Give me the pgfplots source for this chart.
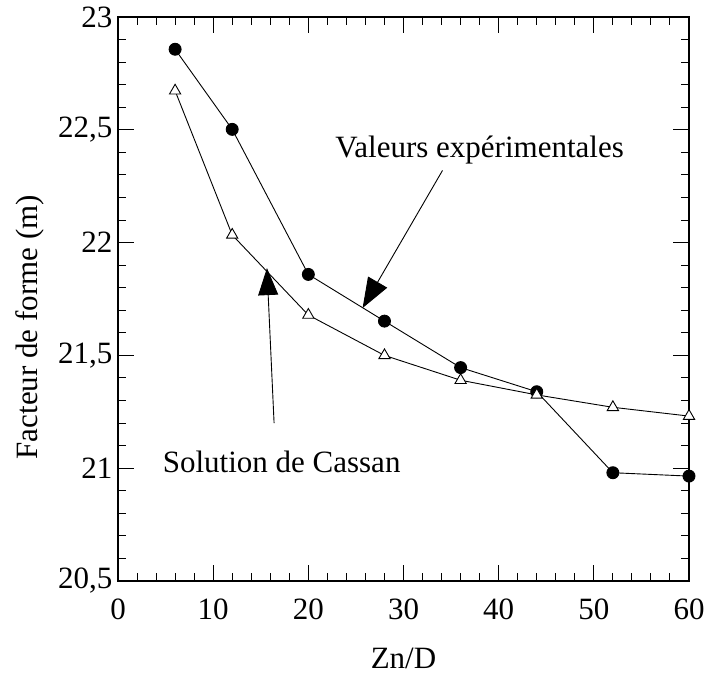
\documentclass[border=0pt]{standalone}
\usepackage{fontspec}
\setmainfont{Liberation Serif}
\usepackage{pgfplots}
\pgfplotsset{compat=1.18}
\usetikzlibrary{arrows.meta}
\begin{document}
\begin{tikzpicture}
\begin{axis}[
  width=571pt, height=564pt, scale only axis,
  xmin=0, xmax=60, ymin=20.5, ymax=23,
  xtick={0,10,...,60}, minor x tick num=4,
  ytick={20.5,21,21.5,22,22.5,23}, minor y tick num=4,
  tick align=inside,
  major tick length=16pt, minor tick length=8pt,
  every tick/.style={black, line width=1pt},
  axis line style={line width=1.3pt},
  /pgf/number format/assume math mode=true,
  /pgf/number format/use comma,
  /pgf/number format/1000 sep={},
  ticklabel style={font=\fontsize{31}{34}\selectfont},
  xticklabel style={yshift=-14pt},
  yticklabel style={xshift=-2pt},
  label style={font=\fontsize{31}{34}\selectfont},
  xlabel={Zn/D},
  ylabel={Facteur de forme (m)},
  xlabel style={yshift=-22pt},
  ylabel style={at={(ticklabel cs:0.45)}, yshift=7pt},
  clip=false,
]
\addplot[black, line width=0.9pt, mark=*, mark size=6pt, mark options={fill=black}]
  coordinates {(6,22.857) (12,22.502) (20,21.859) (28,21.652) (36,21.446) (44,21.339) (52,20.98) (60,20.965)};
\addplot[black, line width=0.9pt, mark=triangle*, mark size=6.5pt, mark options={fill=white, line width=0.9pt}]
  coordinates {(6,22.673) (12,22.034) (20,21.679) (28,21.50) (36,21.39) (44,21.325) (52,21.27) (60,21.231)};
\node[font=\fontsize{31}{34}\selectfont] at (axis cs:38.0,22.41) {Valeurs expérimentales};
\node[font=\fontsize{31}{34}\selectfont] at (axis cs:17.2,21.03) {Solution de Cassan};
\draw[line width=0.9pt, -{Triangle[length=30pt,width=22pt]}] (axis cs:34.1,22.32) -- (axis cs:25.7,21.71);
\draw[line width=0.9pt, -{Triangle[length=27pt,width=20pt]}] (axis cs:16.4,21.2) -- (axis cs:15.65,21.887);
\path (axis cs:-12.40,20.0745) rectangle (axis cs:62.10,23.0754);
\end{axis}
\end{tikzpicture}
\end{document}
